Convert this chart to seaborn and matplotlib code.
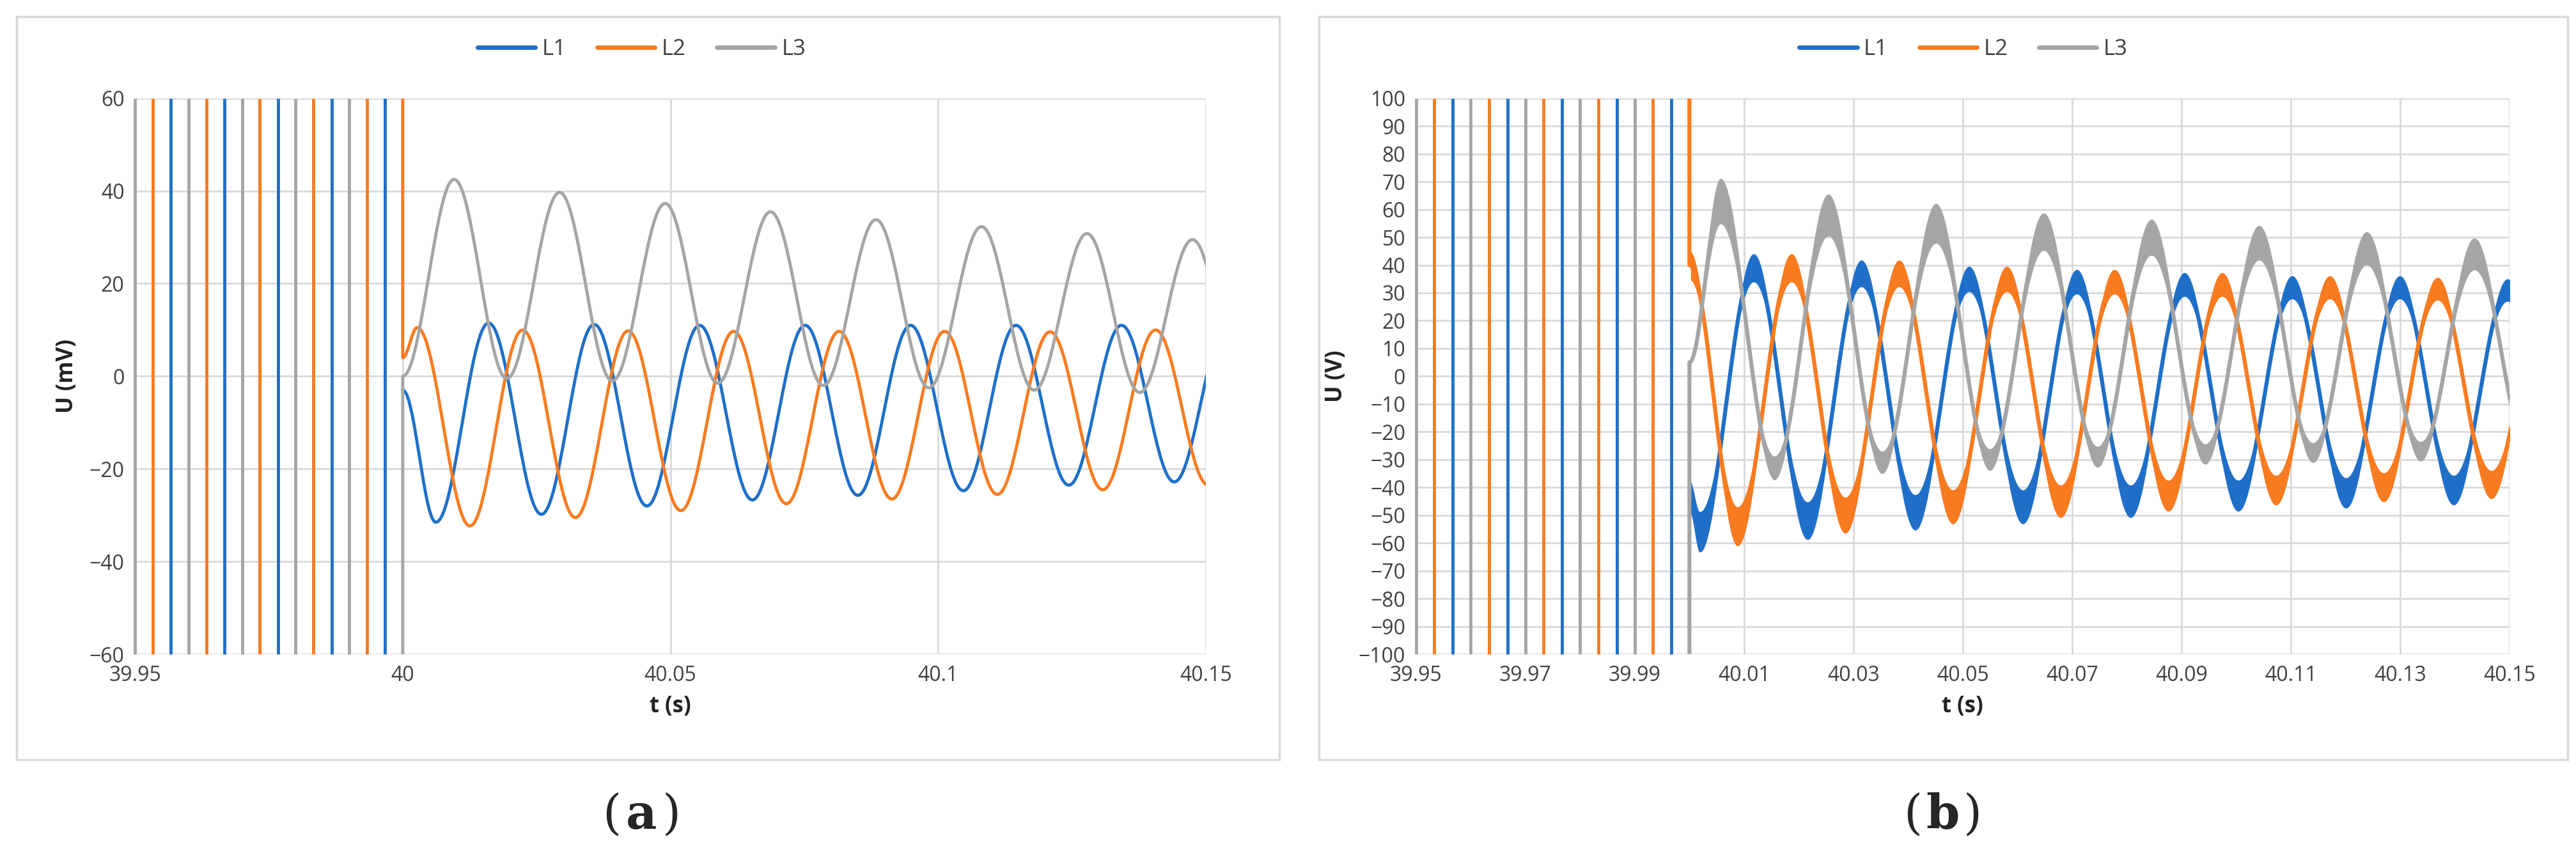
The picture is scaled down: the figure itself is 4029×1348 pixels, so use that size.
import numpy as np
import pandas as pd
import matplotlib
matplotlib.use("Agg")
import matplotlib.pyplot as plt
import seaborn as sns
from matplotlib.patches import Rectangle
from matplotlib.lines import Line2D

# colours (Excel-like)
COLORS = {"L1": "#1f6fc8", "L2": "#f97b20", "L3": "#a5a5a5"}

# switching spikes before 40 s (same in both panels)
spike_L3 = [39.95, 39.96, 39.97, 39.98, 39.99]
spike_L2 = [39.9533, 39.9633, 39.9733, 39.9833, 39.9933]
spike_L1 = [39.9567, 39.9667, 39.9767, 39.9867, 39.9967]

HALF = 0.00985  # half period of the 50 Hz wave

# ---- panel (a): U in mV, values at successive extrema ----
a_start = {"L1": -3, "L2": 4, "L3": 0}
a_first = {"L1": 40.0062, "L2": 40.0027, "L3": 40.0096}
a_L1 = [-31.5, 11.5, -29.8, 11.2, -28, 11, -26.7, 11, -25.7, 11, -24.7, 11, -23.5, 11, -22.8, 11]
a_L2 = [10.5, -32.3, 10, -30.5, 9.8, -29, 9.7, -27.5, 9.7, -26.5, 9.7, -25.5, 9.6, -24.5, 10, -23.5, 10]
a_L3 = [42.5, -0.5, 39.7, -1, 37.3, -1.5, 35.5, -2, 33.8, -2.5, 32.3, -3, 30.8, -3.5, 29.5, -4, 28]

# ---- panel (b): U in V (band centre values at extrema) ----
b_start = {"L1": -43, "L2": 40, "L3": 5}
b_first = {"L1": 40.0019, "L2": 40.0088, "L3": 40.0057}
b_L1 = [-56, 39, -52, 37, -49, 35, -47, 34, -45, 33, -43, 32, -42, 32, -41, 31, -40]
b_L2 = [-54, 39, -50, 37, -47, 35, -45, 34, -43, 33, -41, 32, -40, 31.5, -39, 31]
b_L3 = [63, -33, 58, -31, 55, -30, 52, -29, 50, -28, 48, -27.5, 46, -27, 44, -26.5]


def build(start, t_first, extrema):
    # smooth half-cosine passage between the read extrema
    kt = [40.0] + [t_first + i * HALF for i in range(len(extrema))]
    kv = [start] + list(extrema)
    ts, vs = [], []
    for i in range(len(kt) - 1):
        s = np.linspace(0, 1, 40, endpoint=False)
        ts.extend(kt[i] + s * (kt[i + 1] - kt[i]))
        vs.extend(kv[i] + (kv[i + 1] - kv[i]) * (1 - np.cos(np.pi * s)) / 2)
    return np.array(ts), np.array(vs)


def frame_df(start, first, series, jump):
    parts = []
    for name in ["L1", "L2", "L3"]:
        t, v = build(start[name], first[name], series[name])
        if name in jump:
            t = np.concatenate([[40.0], t])
            v = np.concatenate([[jump[name]], v])
        parts.append(pd.DataFrame({"t": t, "U": v, "phase": name}))
    return pd.concat(parts, ignore_index=True)


df_a = frame_df(a_start, a_first, {"L1": a_L1, "L2": a_L2, "L3": a_L3}, {"L2": 200, "L3": -200})
df_b = frame_df(b_start, b_first, {"L1": b_L1, "L2": b_L2, "L3": b_L3}, {"L2": 300, "L3": -300})

sns.set_theme(style="white")
plt.rcParams["font.family"] = ["Open Sans", "DejaVu Sans"]

fig = plt.figure(figsize=(40.3, 13.48), dpi=100)
for x0, w in [(0.0065, 0.49), (0.512, 0.4846)]:
    fig.patches.append(Rectangle((x0, 0.119), w, 0.862, transform=fig.transFigure,
                                 fill=False, edgecolor="#d9d9d9", linewidth=2.5))

ax_a = fig.add_axes([0.0524, 0.241, 0.4156, 0.645])
ax_b = fig.add_axes([0.5496, 0.241, 0.4243, 0.645])


def style(ax, ylim, yticks, xticks, xlabels, ylabel):
    ax.set_xlim(39.95, 40.15)
    ax.set_ylim(*ylim)
    ax.set_yticks(yticks)
    ax.set_xticks(xticks)
    ax.set_xticklabels(xlabels)
    ax.grid(True, color="#d9d9d9", linewidth=2)
    for s in ax.spines.values():
        s.set_visible(False)
    ax.tick_params(length=0, labelsize=23, colors="#404040", pad=12)
    ax.set_xlabel("t (s)", fontsize=25, fontweight="bold", color="#222222", labelpad=10)
    ax.set_ylabel(ylabel, fontsize=25, fontweight="bold", color="#222222", labelpad=12)
    for name, times in [("L3", spike_L3), ("L2", spike_L2), ("L1", spike_L1)]:
        ax.vlines(times, ylim[0], ylim[1], color=COLORS[name], linewidth=3.5, clip_on=False)


style(ax_a, (-60, 60), np.arange(-60, 61, 20), [39.95, 40.0, 40.05, 40.1, 40.15],
      ["39.95", "40", "40.05", "40.1", "40.15"], "U (mV)")
sns.lineplot(data=df_a, x="t", y="U", hue="phase", palette=COLORS, linewidth=3.5,
             sort=False, estimator=None, ax=ax_a, legend=False)

style(ax_b, (-100, 100), np.arange(-100, 101, 10), np.round(np.arange(39.95, 40.151, 0.02), 2),
      [f"{v:.2f}" for v in np.arange(39.95, 40.151, 0.02)], "U (V)")
for name in ["L1", "L2", "L3"]:
    sub = df_b[df_b["phase"] == name]
    inner = sub[sub["t"] > 40.0]
    ax_b.fill_between(inner["t"], inner["U"] * 0.87, inner["U"] * 1.13,
                      color=COLORS[name], linewidth=0)
sns.lineplot(data=df_b, x="t", y="U", hue="phase", palette=COLORS, linewidth=4.5,
             sort=False, estimator=None, ax=ax_b, legend=False)

handles = [Line2D([], [], color=COLORS[n], linewidth=5) for n in ["L1", "L2", "L3"]]
for cx in [0.249, 0.762]:
    fig.legend(handles, ["L1", "L2", "L3"], loc="center", bbox_to_anchor=(cx, 0.943),
               ncol=3, frameon=False, fontsize=25, handlelength=2.6, columnspacing=1.4,
               handletextpad=0.3, labelcolor="#404040")

for cx, lab in [(0.249, "a"), (0.754, "b")]:
    fig.text(cx - 0.008, 0.054, "(", ha="right", va="center", fontsize=54, family="DejaVu Serif")
    fig.text(cx, 0.054, lab, ha="center", va="center", fontsize=54, fontweight="bold",
             family="DejaVu Serif")
    fig.text(cx + 0.008, 0.054, ")", ha="left", va="center", fontsize=54, family="DejaVu Serif")

fig.savefig("out.png", dpi=100)
